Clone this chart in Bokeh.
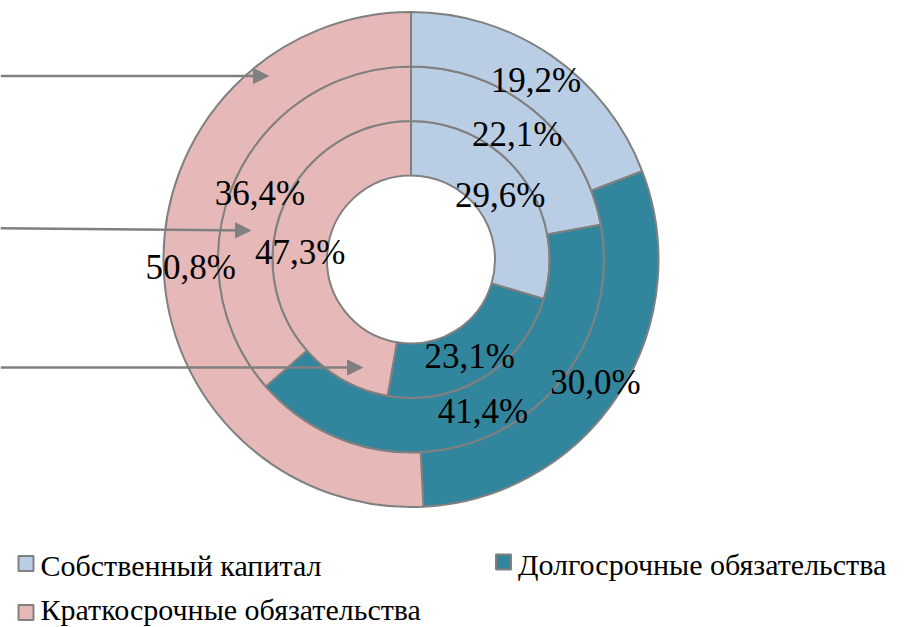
import numpy as np
from bokeh.plotting import figure
from bokeh.models import Range1d, Arrow, NormalHead
from bokeh.core.properties import value
from bokeh.embed import file_html
from bokeh.resources import INLINE

# ---- data ----
categories = ["Собственный капитал", "Долгосрочные обязательства", "Краткосрочные обязательства"]
colors = ["#B9CDE5", "#31859C", "#E6B9B8"]
ring_outer = [19.2, 30.0, 50.8]
ring_middle = [22.1, 41.4, 36.4]
ring_inner = [29.6, 23.1, 47.3]
label_text = {
    "outer": ["19,2%", "30,0%", "50,8%"],
    "middle": ["22,1%", "41,4%", "36,4%"],
    "inner": ["29,6%", "23,1%", "47,3%"],
}

# ---- geometry (page pixel coordinates; data y = 627 - screen y) ----
W, H = 918, 627
cx, cy = 410.5, H - 259.0
radii = {"inner": (84, 138.5), "middle": (138.5, 193), "outer": (193, 247.5)}
rings = {"outer": ring_outer, "middle": ring_middle, "inner": ring_inner}

p = figure(width=W, height=H, x_range=Range1d(0, W), y_range=Range1d(0, H),
           output_backend="svg", toolbar_location=None,
           x_axis_type=None, y_axis_type=None, min_border=0)
p.grid.visible = False
p.outline_line_color = None

FONT = value("Liberation Serif")
EDGE = "#808080"

labels_x, labels_y, labels_t = [], [], []
for name in ["inner", "middle", "outer"]:
    vals = [float(v) for v in rings[name]]
    tot = sum(vals)
    cum = [0.0]
    for v in vals:
        cum.append(cum[-1] + v / tot)
    r0, r1 = radii[name]
    for i in range(3):
        a0 = float(np.pi / 2 - 2 * np.pi * cum[i])
        a1 = float(np.pi / 2 - 2 * np.pi * cum[i + 1])
        p.annular_wedge(x=[cx], y=[cy], inner_radius=r0, outer_radius=r1,
                        start_angle=a0, end_angle=a1, direction="clock",
                        fill_color=colors[i], line_color=EDGE, line_width=2)
        mid = np.pi * (cum[i] + cum[i + 1])
        rm = (r0 + r1) / 2
        labels_x.append(float(cx + rm * np.sin(mid)))
        labels_y.append(float(cy + rm * np.cos(mid)) - 2.5)
        labels_t.append(label_text[name][i])

# ---- arrows pointing to each ring ----
arrow_start = [(0, H - 75.5), (0, H - 227.7), (0, H - 367)]
arrow_end = [(268, H - 75.5), (250, H - 230), (362, H - 367)]
for (x0, y0), (x1, y1) in zip(arrow_start, arrow_end):
    p.add_layout(Arrow(end=NormalHead(size=15, fill_color=EDGE, line_color=EDGE),
                       x_start=x0, y_start=y0, x_end=x1, y_end=y1,
                       line_color=EDGE, line_width=2.5))

# ---- legend squares (manual) ----
leg_x = [25.5, 503, 25.5]
leg_y = [H - 563, H - 561.5, H - 612]
text_y = [H - 565, H - 564, H - 609]
for i in range(3):
    p.rect(x=[leg_x[i]], y=[leg_y[i]], width=15, height=15, fill_color=colors[i],
           line_color=EDGE, line_width=2)

# ---- texts ----
p.text(x=labels_x, y=labels_y, text=labels_t, text_font=FONT, text_font_size="35px",
       text_align="center", text_baseline="middle", text_color="black")
p.text(x=[x + 14.5 for x in leg_x], y=text_y, text=categories, text_font=FONT,
       text_font_size="30px", text_align="left", text_baseline="middle", text_color="black")

open("out.html", "w").write(file_html(p, INLINE))
